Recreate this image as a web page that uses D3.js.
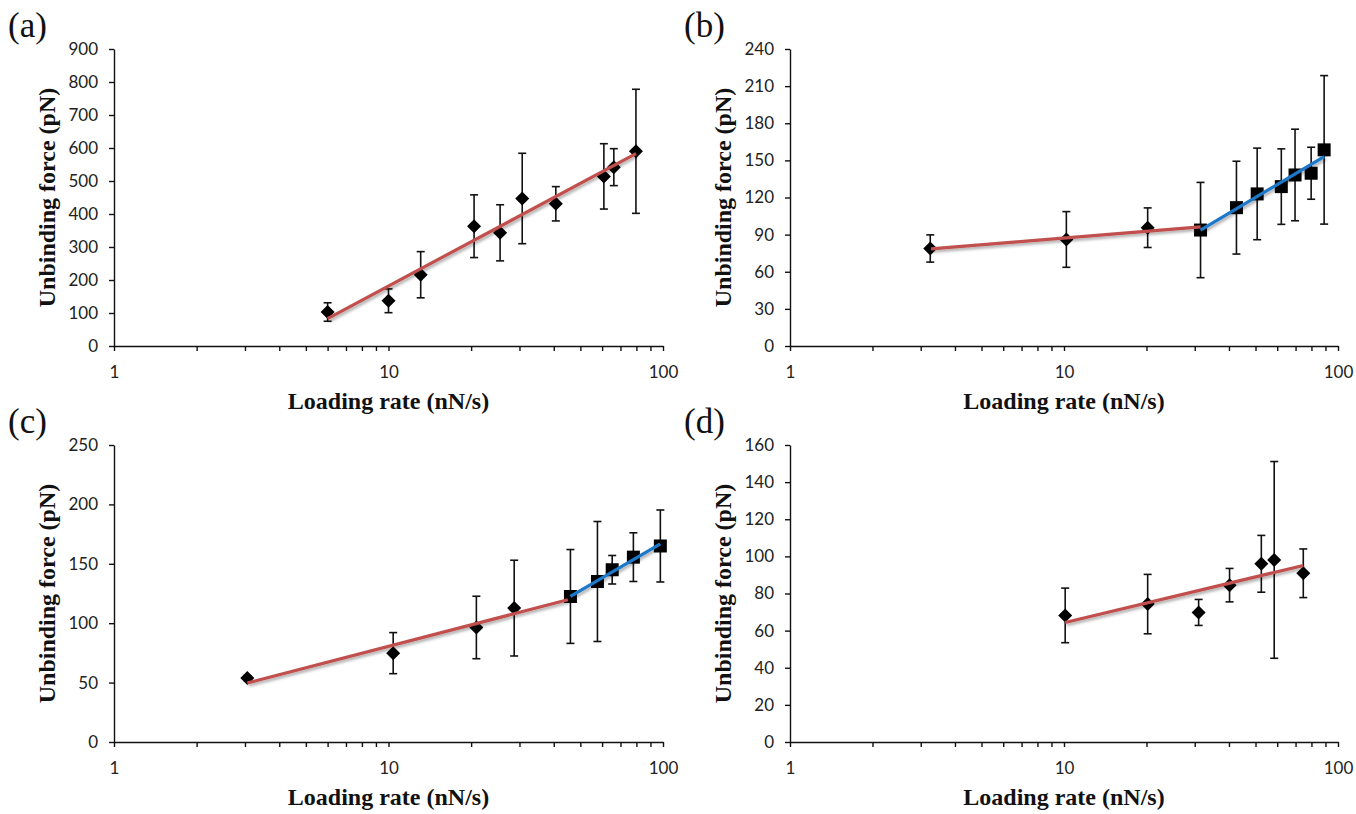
<!DOCTYPE html>
<html>
<head>
<meta charset="utf-8">
<script src="https://cdn.jsdelivr.net/npm/d3@7"></script>
<style>
  body { margin: 0; background: #fff; }
  svg { display: block; }
</style>
</head>
<body>
<svg id="chart" width="1356" height="814"></svg>
<script>
// x axis ticks (log scale, nN/s)
let xTicks = [1, 2, 3, 4, 5, 6, 7, 8, 9, 10, 20, 30, 40, 50, 60, 70, 80, 90, 100];
let xLabels = [1, 10, 100];

// (a)
let rateA = [6.0, 10.0, 13.1, 20.5, 25.5, 30.7, 40.7, 60.9, 66.2, 79.7];
let forceA = [103, 137, 216, 363, 343, 447, 431, 514, 542, 590];
let errA = [28, 36, 70, 95, 85, 137, 52, 99, 56, 188];
let fitA = [[6.0, 83], [79.7, 583]];
let yTicksA = [0, 100, 200, 300, 400, 500, 600, 700, 800, 900];

// (b)
let rateB1 = [3.25, 10.2, 20.2];
let forceB1 = [78.8, 86.1, 95.6];
let errB1 = [11, 22.5, 16];
let rateB2 = [31.5, 42.6, 50.7, 62.1, 69.7, 79.8, 89.0];
let forceB2 = [93.7, 111.8, 122.9, 128.8, 138.2, 139.6, 158.5];
let errB2 = [38.5, 37.5, 37, 30.5, 37, 21, 60];
let fitB1 = [[3.27, 78.5], [31.5, 96.2]];
let fitB2 = [[31.5, 93.7], [89.0, 153]];
let yTicksB = [0, 30, 60, 90, 120, 150, 180, 210, 240];

// (c)
let rateC1 = [3.06, 10.4, 20.9, 28.7];
let forceC1 = [53.8, 74.8, 96.4, 112.7];
let errC1 = [2, 17.3, 26.3, 40.3];
let rateC2 = [46.0, 57.7, 65.3, 78.0, 97.8];
let forceC2 = [122.5, 135.1, 145, 155.6, 165];
let errC2 = [39.5, 50.5, 12, 20.5, 30.3];
let fitC1 = [[3.06, 49.6], [45.0, 119.7]];
let fitC2 = [[46.0, 122.5], [97.8, 166.8]];
let yTicksC = [0, 50, 100, 150, 200, 250];

// (d)
let rateD = [10.1, 20.2, 31.0, 40.2, 52.5, 58.5, 74.7];
let forceD = [68.2, 74.3, 69.8, 84.5, 96.0, 98.1, 90.9];
let errD = [14.7, 16, 7, 9, 15.3, 53, 13.1];
let fitD = [[10.1, 64.4], [74.7, 95.1]];
let yTicksD = [0, 20, 40, 60, 80, 100, 120, 140, 160];

const RED = "#c0504d";
const BLUE = "#1f78c8";

let svg = d3.select("#chart");

// soft shadow like the Excel trendlines
svg
  .append("defs")
  .append("filter")
  .attr("id", "shadow")
  .attr("x", "-10%")
  .attr("y", "-50%")
  .attr("width", "120%")
  .attr("height", "200%")
  .append("feDropShadow")
  .attr("dx", 1.5)
  .attr("dy", 2)
  .attr("stdDeviation", 1.4)
  .attr("flood-color", "#000")
  .attr("flood-opacity", 0.35);

function zip(rates, forces, errs) {
  return rates.map((r, i) => ({ rate: r, force: forces[i], err: errs[i] }));
}

function drawPanel(p) {
  let g = svg.append("g");

  let x = d3.scaleLog().domain([1, 100]).range([p.left, p.right]);
  let y = d3
    .scaleLinear()
    .domain([0, p.yTicks[p.yTicks.length - 1]])
    .range([p.bottom, p.top]);

  let xAxis = g
    .append("g")
    .attr("transform", `translate(0,${p.bottom})`)
    .call(
      d3
        .axisBottom(x)
        .tickValues(xTicks)
        .tickFormat((d) => (xLabels.includes(d) ? d : ""))
        .tickSize(5)
        .tickSizeOuter(0)
        .tickPadding(15)
    );

  let yAxis = g
    .append("g")
    .attr("transform", `translate(${p.left},0)`)
    .call(
      d3
        .axisLeft(y)
        .tickValues(p.yTicks)
        .tickSize(5)
        .tickSizeOuter(0)
        .tickPadding(11)
    );

  [xAxis, yAxis].forEach((a) => {
    a.attr("font-family", "Lato, 'Liberation Sans', sans-serif")
      .attr("font-size", 17);
    a.selectAll("path, line").attr("stroke", "#111").attr("stroke-width", 1.4);
    a.selectAll("text").attr("fill", "#222");
  });

  // axis titles
  g.append("text")
    .attr("x", (p.left + p.right) / 2)
    .attr("y", p.bottom + 63)
    .attr("text-anchor", "middle")
    .attr("font-family", "'Liberation Serif', serif")
    .attr("font-weight", "bold")
    .attr("font-size", 24)
    .attr("fill", "#111")
    .text("Loading rate (nN/s)");

  g.append("text")
    .attr(
      "transform",
      `translate(${p.left - 59},${(p.top + p.bottom) / 2}) rotate(-90)`
    )
    .attr("text-anchor", "middle")
    .attr("font-family", "'Liberation Serif', serif")
    .attr("font-weight", "bold")
    .attr("font-size", 24)
    .attr("fill", "#111")
    .text("Unbinding force (pN)");

  // panel letter
  g.append("text")
    .attr("x", p.left - 106)
    .attr("y", p.top - 12)
    .attr("font-family", "'Liberation Serif', serif")
    .attr("font-size", 35)
    .attr("fill", "#111")
    .text(`(${p.name})`);

  // error bars
  let allPoints = p.series.flatMap((s) => s.points);
  let bars = g.append("g").attr("stroke", "#111").attr("stroke-width", 1.6);

  allPoints.forEach((d) => {
    let y0 = y(d.force - d.err);
    let y1 = y(d.force + d.err);
    let cx = x(d.rate);
    bars.append("line").attr("x1", cx).attr("x2", cx).attr("y1", y0).attr("y2", y1);
    bars.append("line").attr("x1", cx - 4).attr("x2", cx + 4).attr("y1", y0).attr("y2", y0);
    bars.append("line").attr("x1", cx - 4).attr("x2", cx + 4).attr("y1", y1).attr("y2", y1);
  });

  // markers
  p.series.forEach((s) => {
    let sym =
      s.shape === "square"
        ? d3.symbol(d3.symbolSquare, 169)
        : d3.symbol(d3.symbolSquare, 98);
    g.append("g")
      .selectAll("path")
      .data(s.points)
      .join("path")
      .attr("d", sym)
      .attr("fill", "#000")
      .attr(
        "transform",
        (d) =>
          `translate(${x(d.rate)},${y(d.force)})` +
          (s.shape === "square" ? "" : " rotate(45)")
      );
  });

  // trendlines
  let line = d3
    .line()
    .x((d) => x(d[0]))
    .y((d) => y(d[1]));

  p.fits.forEach((f) => {
    g.append("path")
      .attr("d", line(f.pts))
      .attr("fill", "none")
      .attr("stroke", f.color)
      .attr("stroke-width", 3.2)
      .attr("filter", "url(#shadow)");
  });
}

drawPanel({
  name: "a",
  left: 114,
  right: 663,
  top: 49,
  bottom: 346,
  yTicks: yTicksA,
  series: [{ shape: "diamond", points: zip(rateA, forceA, errA) }],
  fits: [{ pts: fitA, color: RED }],
});

drawPanel({
  name: "b",
  left: 790,
  right: 1338,
  top: 49,
  bottom: 346,
  yTicks: yTicksB,
  series: [
    { shape: "diamond", points: zip(rateB1, forceB1, errB1) },
    { shape: "square", points: zip(rateB2, forceB2, errB2) },
  ],
  fits: [
    { pts: fitB1, color: RED },
    { pts: fitB2, color: BLUE },
  ],
});

drawPanel({
  name: "c",
  left: 114,
  right: 663,
  top: 445,
  bottom: 742,
  yTicks: yTicksC,
  series: [
    { shape: "diamond", points: zip(rateC1, forceC1, errC1) },
    { shape: "square", points: zip(rateC2, forceC2, errC2) },
  ],
  fits: [
    { pts: fitC1, color: RED },
    { pts: fitC2, color: BLUE },
  ],
});

drawPanel({
  name: "d",
  left: 790,
  right: 1338,
  top: 445,
  bottom: 742,
  yTicks: yTicksD,
  series: [{ shape: "diamond", points: zip(rateD, forceD, errD) }],
  fits: [{ pts: fitD, color: RED }],
});
</script>
</body>
</html>
